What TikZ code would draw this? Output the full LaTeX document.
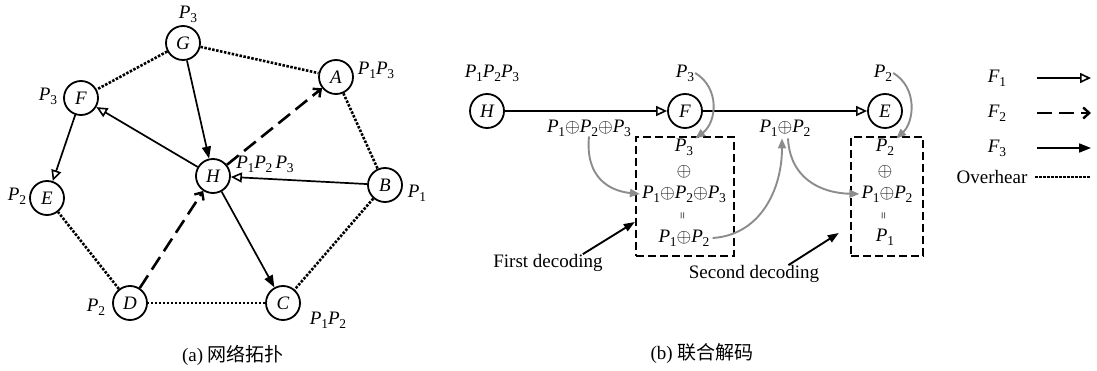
\RequirePackage{fix-cm}
\documentclass[tikz,border=0pt]{standalone}
\usepackage{fontspec}
\usepackage{graphicx}
\setmainfont{Liberation Serif}
\newfontfamily\cjk{Noto Sans CJK SC}
\usetikzlibrary{arrows.meta}
\newcommand\fsz{\fontsize{19}{22}\selectfont}
\newcommand\Pn[1]{\textit{P}\kern-0.3pt\raisebox{-4pt}{\fontsize{13.5}{14}\selectfont #1}}
\newcommand\Fn[1]{\textit{F}\kern-0.3pt\raisebox{-4pt}{\fontsize{13.5}{14}\selectfont #1}}
\newcommand\xo{$\oplus$}
\newcommand\veq{\rotatebox{90}{\fontsize{13}{13}\selectfont =}}
\tikzset{
  nd/.style={circle,draw,line width=1.8pt,minimum size=34pt,inner sep=0pt,font=\fsz\itshape},
  lbl/.style={font=\fsz,inner sep=0pt},
  fone/.style={line width=1.7pt,-{Triangle[open,length=11pt,width=10pt,line width=1.6pt]}},
  ftwo/.style={line width=2.6pt,dash pattern=on 15pt off 7pt,-{Straight Barb[length=6pt,width=11pt,line width=2.4pt]}},
  fthree/.style={line width=1.7pt,-{Triangle[length=12pt,width=9pt]}},
  ovh/.style={line width=2.6pt,dash pattern=on 2.5pt off 1.5pt},
  garr/.style={draw=black!45,line width=1.9pt,-{Triangle[length=10pt,width=8pt,fill=black!45]}},
  barr/.style={line width=1.9pt,-{Triangle[length=11pt,width=8pt]}},
  decbox/.style={draw,line width=2.4pt,dash pattern=on 8pt off 4pt,inner sep=0pt}
}
\begin{document}
\begin{tikzpicture}[x=1pt,y=1pt]
\useasboundingbox (0,0) rectangle (1097,-371);
% ---------- (a) topology ----------
\node[nd] (G) at (183,-43) {G};
\node[nd] (A) at (336,-77) {A};
\node[nd] (F) at (81,-98) {F};
\node[nd] (H) at (213,-176) {H};
\node[nd] (B) at (385,-185) {B};
\node[nd] (E) at (47,-198) {E};
\node[nd] (D) at (130,-303) {D};
\node[nd] (C) at (283,-303) {C};
\node[lbl] (lG) at (188,-14) {\Pn3};
\node[lbl] (lA) at (376,-70) {\Pn1\Pn3};
\node[lbl] (lF) at (48,-96) {\Pn3};
\node[lbl] (lH) at (265,-164) {\Pn1\Pn2\,\Pn3};
\node[lbl] (lB) at (417,-193) {\Pn1};
\node[lbl] (lE) at (17,-196) {\Pn2};
\node[lbl] (lD) at (96,-307) {\Pn2};
\node[lbl] (lC) at (328,-320) {\Pn1\Pn2};
\node[lbl] (capa) at (233,-355) {(a) {\cjk 网络拓扑}};
\draw[ovh] (G) -- (F);
\draw[ovh] (G) -- (A);
\draw[ovh] (A) -- (B);
\draw[ovh] (B) -- (C);
\draw[ovh] (C) -- (D);
\draw[ovh] (D) -- (E);
\draw[fthree] (G) -- (H);
\draw[fthree] (H) -- (C);
\draw[fone] (H) -- (F);
\draw[fone] (F) -- (E);
\draw[fone] (B) -- (H);
\draw[ftwo] (D) -- (H);
\draw[ftwo] (H) -- (A);
% ---------- (b) joint decoding ----------
\node[nd] (H2) at (487,-111) {H};
\node[nd] (F2) at (685,-111) {F};
\node[nd] (E2) at (885,-111) {E};
\draw[fone] (H2) -- (F2);
\draw[fone] (F2) -- (E2);
\node[lbl] (lH2) at (492,-73) {\Pn1\Pn2\Pn3};
\node[lbl] (lF2) at (685,-73) {\Pn3};
\node[lbl] (lE2) at (883,-73) {\Pn2};
\node[lbl] (s3) at (589,-128) {\Pn1\xo\Pn2\xo\Pn3};
\node[lbl] (s2) at (785,-128) {\Pn1\xo\Pn2};
\node[decbox,minimum width=98pt,minimum height=119pt] (bx1) at (685,-196.5) {};
\node[decbox,minimum width=72pt,minimum height=119pt] (bx2) at (887,-196.5) {};
\node[lbl] (b1r1) at (684,-147) {\Pn3};
\node[lbl] (b1r2) at (684,-172) {\xo};
\node[lbl] (b1r3) at (684,-194) {\Pn1\xo\Pn2\xo\Pn3};
\node[lbl] (b1r4) at (684,-216) {\veq};
\node[lbl] (b1r5) at (684,-238) {\Pn1\xo\Pn2};
\node[lbl] (b2r1) at (885,-147) {\Pn2};
\node[lbl] (b2r2) at (885,-172) {\xo};
\node[lbl] (b2r3) at (887,-194) {\Pn1\xo\Pn2};
\node[lbl] (b2r4) at (885,-216) {\veq};
\node[lbl] (b2r5) at (885,-237) {\Pn1};
\node[lbl] (fd) at (548,-263) {First decoding};
\node[lbl] (sd) at (754,-274) {Second decoding};
\node[lbl] (capb) at (702,-354) {(b) {\cjk 联合解码}};
\draw[garr] ([xshift=1pt]lF2.east) .. controls (720,-88) and (717,-122) .. ([xshift=2pt]b1r1.north east);
\draw[garr] (s3.south) .. controls (585,-178) and (610,-191) .. ([xshift=-2pt]b1r3.west);
\draw[garr] ([xshift=3pt]b1r5.east) .. controls (760,-235) and (782,-190) .. ([xshift=-3pt,yshift=-2pt]s2.south);
\draw[garr] ([xshift=3pt,yshift=-2pt]s2.south) .. controls (790,-178) and (820,-193) .. ([xshift=-2pt]b2r3.west);
\draw[garr] ([xshift=1pt]lE2.east) .. controls (918,-88) and (914,-122) .. ([xshift=2pt]b2r1.north east);
\draw[barr] ([xshift=-20pt]fd.north east) -- ([yshift=-25.5pt]bx1.west);
\draw[barr] ([xshift=-31pt]sd.north east) -- ([xshift=-11pt,yshift=-36.5pt]bx2.west);
% ---------- legend ----------
\node[lbl] (k1) at (997,-78) {\Fn1};
\node[lbl] (k2) at (997,-113) {\Fn2};
\node[lbl] (k3) at (997,-148) {\Fn3};
\node[lbl] (k4) at (992,-177) {Overhear};
\coordinate (k1a) at (1037,-78);  \coordinate (k1b) at (1091,-78);
\coordinate (k2a) at (1037,-113); \coordinate (k2b) at (1091,-113);
\coordinate (k3a) at (1037,-148); \coordinate (k3b) at (1091,-148);
\coordinate (k4a) at (1035,-177); \coordinate (k4b) at (1091,-177);
\draw[fone] (k1a) -- (k1b);
\draw[ftwo] (k2a) -- (k2b);
\draw[fthree] (k3a) -- (k3b);
\draw[ovh] (k4a) -- (k4b);
\end{tikzpicture}
\end{document}
